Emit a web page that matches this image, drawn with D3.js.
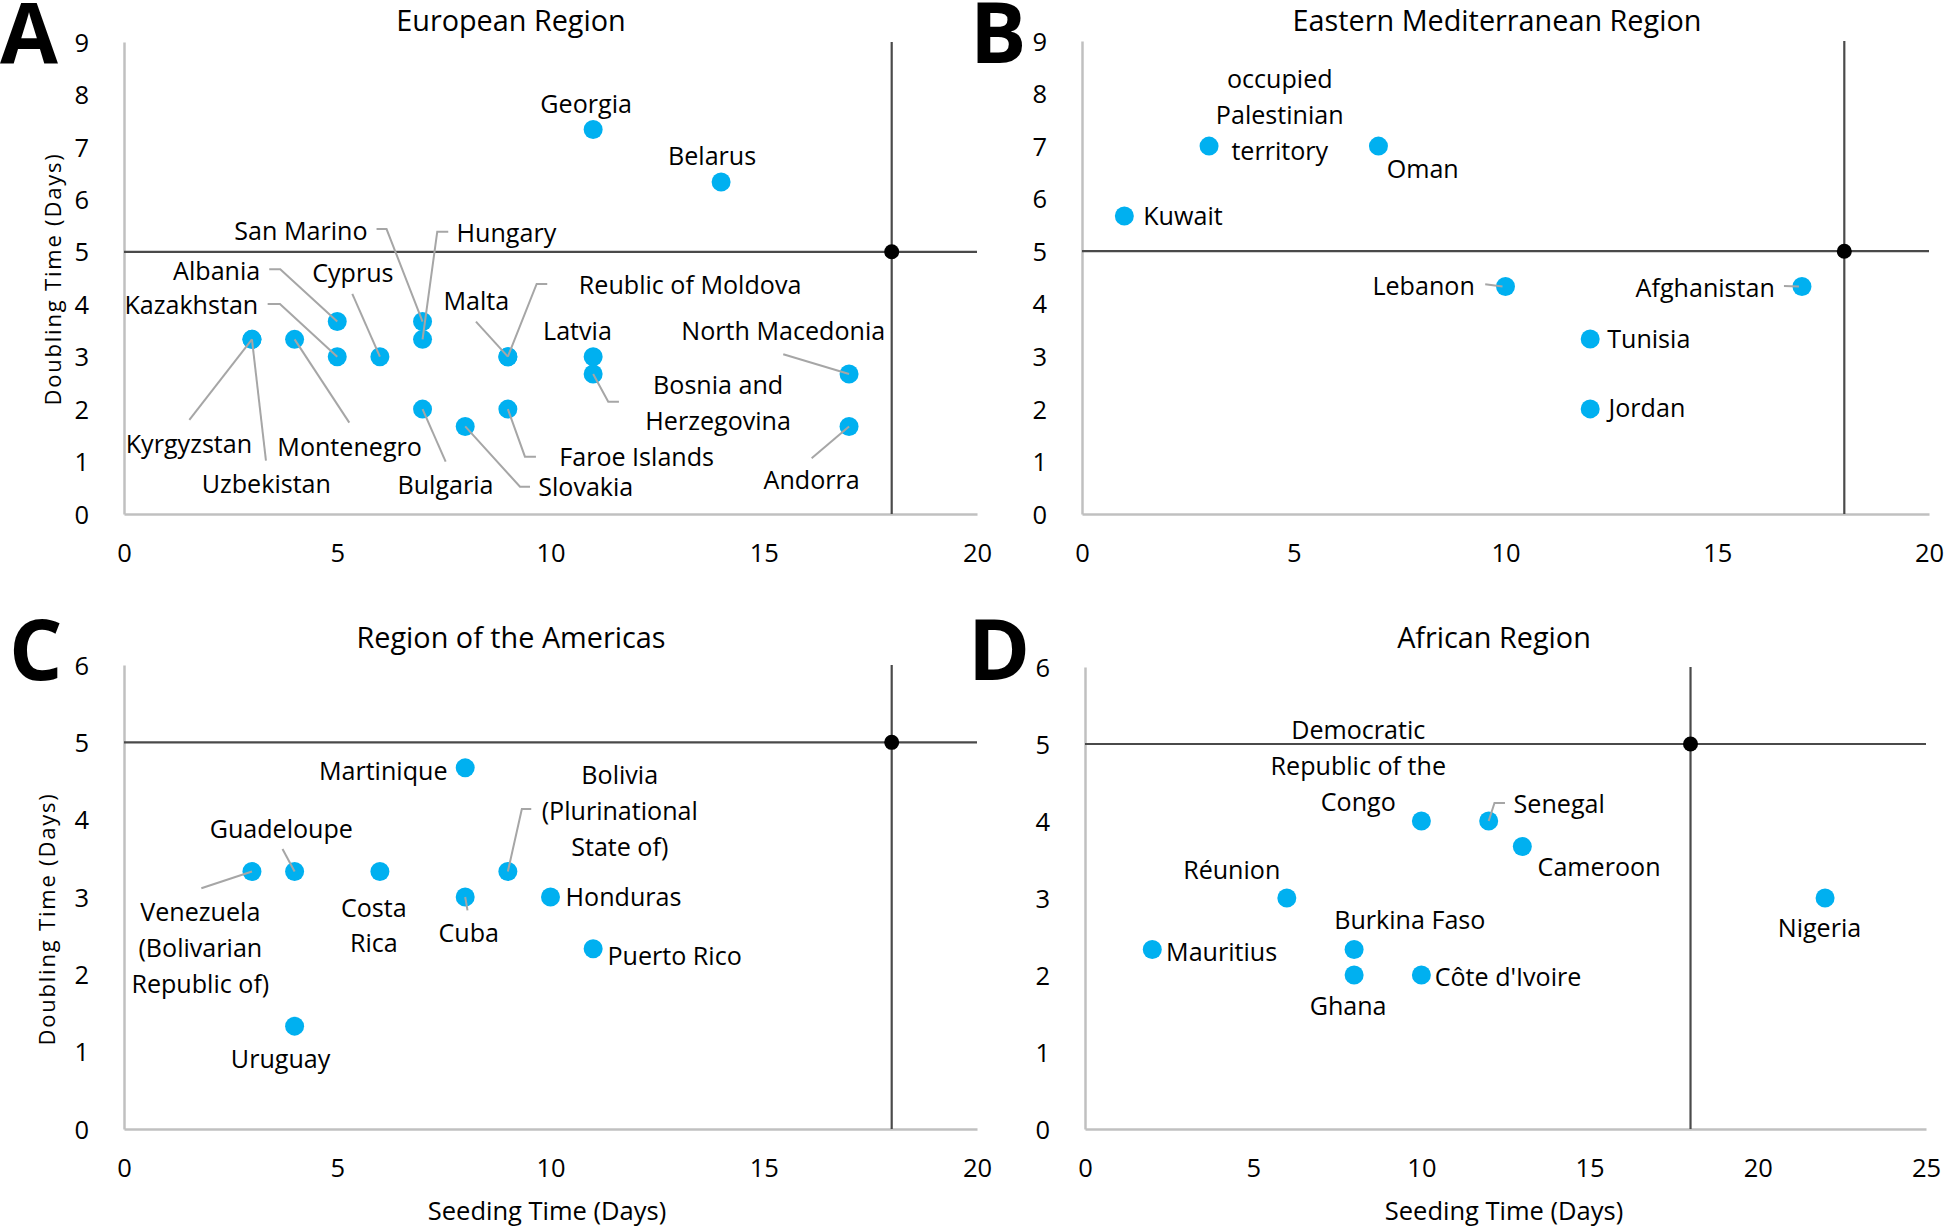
<!DOCTYPE html>
<html>
<head>
<meta charset="utf-8">
<script src="https://cdn.jsdelivr.net/npm/d3@7"></script>
<style>
  html, body { margin: 0; padding: 0; background: #ffffff; }
  svg { display: block; }
  text { font-family: "Open Sans", "Noto Sans", sans-serif; fill: #000; }
</style>
</head>
<body>
<svg id="chart" width="1946" height="1228"></svg>
<script>
// ---------------- DATA ----------------
// A: European Region
const euroCountries = ["Georgia","Belarus","San Marino","Hungary","Albania","Kazakhstan","Cyprus","Malta",
  "Reublic of Moldova","Latvia","North Macedonia","Bosnia and Herzegovina","Faroe Islands","Slovakia",
  "Andorra","Bulgaria","Montenegro","Kyrgyzstan","Uzbekistan"];
const euroSeeding  = [11, 14, 7, 7, 5, 5, 6, 9, 9, 11, 17, 11, 9, 8, 17, 7, 4, 3, 3];
const euroDoubling = [7.33, 6.33, 3.67, 3.33, 3.67, 3, 3, 3, 3, 3, 2.67, 2.67, 2, 1.67, 1.67, 2, 3.33, 3.33, 3.33];

// B: Eastern Mediterranean Region
const emCountries = ["occupied Palestinian territory","Oman","Kuwait","Lebanon","Afghanistan","Tunisia","Jordan"];
const emSeeding   = [3, 7, 1, 10, 17, 12, 12];
const emDoubling  = [7, 7, 5.67, 4.33, 4.33, 3.33, 2];

// C: Region of the Americas
const amrCountries = ["Martinique","Guadeloupe","Venezuela (Bolivarian Republic of)","Costa Rica","Cuba",
  "Bolivia (Plurinational State of)","Honduras","Puerto Rico","Uruguay"];
const amrSeeding   = [8, 4, 3, 6, 8, 9, 10, 11, 4];
const amrDoubling  = [4.67, 3.33, 3.33, 3.33, 3, 3.33, 3, 2.33, 1.33];

// D: African Region
const afrCountries = ["Democratic Republic of the Congo","Senegal","Cameroon","Réunion","Mauritius",
  "Burkina Faso","Ghana","Côte d'Ivoire","Nigeria"];
const afrSeeding   = [10, 12, 13, 6, 2, 8, 8, 10, 22];
const afrDoubling  = [4, 4, 3.67, 3, 2.33, 2.33, 2, 2, 3];

// Ticks & thresholds
const xTicks20 = [0, 5, 10, 15, 20];
const xTicks25 = [0, 5, 10, 15, 20, 25];
const yTicks9  = [0, 1, 2, 3, 4, 5, 6, 7, 8, 9];
const yTicks6  = [0, 1, 2, 3, 4, 5, 6];
const seedingThreshold = 18;
const doublingThreshold = 5;

const panelTitles = ["European Region", "Eastern Mediterranean Region", "Region of the Americas", "African Region"];
const panelLetters = ["A", "B", "C", "D"];
const xAxisTitle = "Seeding Time (Days)";
const yAxisTitle = "Doubling Time (Days)";

// ---------------- LABEL LAYOUT (pixel offsets from each point) ----------------
const labelLayout = {
  "Georgia": {lines:["Georgia"], anchor:"middle", dx:-7, dy:-26},
  "Belarus": {lines:["Belarus"], anchor:"middle", dx:-9, dy:-26},
  "San Marino": {lines:["San Marino"], anchor:"end", dx:-55, dy:-91, leader:[[-46,-92.5],[-36,-92.5],[0,0]]},
  "Hungary": {lines:["Hungary"], anchor:"start", dx:34, dy:-106, leader:[[25.7,-107.7],[14.7,-107.7],[0,0]]},
  "Albania": {lines:["Albania"], anchor:"end", dx:-77, dy:-50.5, leader:[[-68,-52.2],[-57,-52.2],[0,0]]},
  "Kazakhstan": {lines:["Kazakhstan"], anchor:"end", dx:-79, dy:-51.7, leader:[[-69.6,-52.7],[-57.3,-52.7],[0,0]]},
  "Cyprus": {lines:["Cyprus"], anchor:"middle", dx:-27, dy:-84, leader:[[-27.6,-62.7],[0,0]]},
  "Malta": {lines:["Malta"], anchor:"middle", dx:-31.6, dy:-55.7, leader:[[-31.9,-35],[0,0]]},
  "Reublic of Moldova": {lines:["Reublic of Moldova"], anchor:"start", dx:71, dy:-71.7, leader:[[39.4,-72.7],[28.8,-72.7],[0,0]]},
  "Latvia": {lines:["Latvia"], anchor:"middle", dx:-15.7, dy:-25.7},
  "North Macedonia": {lines:["North Macedonia"], anchor:"middle", dx:-65.8, dy:-43, leader:[[-65.8,-19.7],[0,0]]},
  "Bosnia and Herzegovina": {lines:["Bosnia and","Herzegovina"], anchor:"middle", dx:125, dy:11, leader:[[0,0],[15.1,27.7],[25.8,27.7]]},
  "Faroe Islands": {lines:["Faroe Islands"], anchor:"start", dx:51.4, dy:48.2, leader:[[0,0],[17.1,47.6],[28.1,47.6]]},
  "Slovakia": {lines:["Slovakia"], anchor:"start", dx:73, dy:61, leader:[[0,0],[54.8,60.3],[64.8,60.3]]},
  "Andorra": {lines:["Andorra"], anchor:"middle", dx:-37.4, dy:53.6, leader:[[-37.4,31.9],[0,0]]},
  "Bulgaria": {lines:["Bulgaria"], anchor:"middle", dx:23, dy:76, leader:[[0,0],[23.1,52.6]]},
  "Montenegro": {lines:["Montenegro"], anchor:"middle", dx:55, dy:107.3, leader:[[0,0],[54.7,83.3]]},
  "Kyrgyzstan": {lines:["Kyrgyzstan"], anchor:"middle", dx:-63, dy:104.6, leader:[[0,0],[-62.6,80.6]]},
  "Uzbekistan": {lines:["Uzbekistan"], anchor:"middle", dx:14.4, dy:144.6, leader:[[0,0],[14,121.3]]},

  "occupied Palestinian territory": {lines:["occupied","Palestinian","territory"], anchor:"middle", dx:70.7, dy:-66.8},
  "Oman": {lines:["Oman"], anchor:"start", dx:8.2, dy:22.9},
  "Kuwait": {lines:["Kuwait"], anchor:"start", dx:18.9, dy:0.4},
  "Lebanon": {lines:["Lebanon"], anchor:"end", dx:-30.7, dy:-0.7, leader:[[-20.3,-2.1],[-3,0]]},
  "Afghanistan": {lines:["Afghanistan"], anchor:"end", dx:-27.1, dy:1.5, leader:[[-18,-0.4],[-3,0]]},
  "Tunisia": {lines:["Tunisia"], anchor:"start", dx:17, dy:0.3},
  "Jordan": {lines:["Jordan"], anchor:"start", dx:18.3, dy:-1},

  "Martinique": {lines:["Martinique"], anchor:"end", dx:-17.7, dy:3.5},
  "Guadeloupe": {lines:["Guadeloupe"], anchor:"middle", dx:-13.3, dy:-42.5, leader:[[-12.1,-22.5],[0,0]]},
  "Venezuela (Bolivarian Republic of)": {lines:["Venezuela","(Bolivarian","Republic of)"], anchor:"middle", dx:-51.6, dy:40.9, leader:[[-50.6,16.8],[0,0]]},
  "Costa Rica": {lines:["Costa","Rica"], anchor:"middle", dx:-6.1, dy:36.1},
  "Cuba": {lines:["Cuba"], anchor:"middle", dx:3.5, dy:36.2, leader:[[2.3,13.4],[0,0]]},
  "Bolivia (Plurinational State of)": {lines:["Bolivia","(Plurinational","State of)"], anchor:"middle", dx:111.9, dy:-96.1, leader:[[23.4,-62.5],[14,-62.5],[0,0]]},
  "Honduras": {lines:["Honduras"], anchor:"start", dx:15.1, dy:0.2},
  "Puerto Rico": {lines:["Puerto Rico"], anchor:"start", dx:14.3, dy:6.8},
  "Uruguay": {lines:["Uruguay"], anchor:"middle", dx:-14, dy:32.4},

  "Democratic Republic of the Congo": {lines:["Democratic","Republic of the","Congo"], anchor:"middle", dx:-63.1, dy:-90.8},
  "Senegal": {lines:["Senegal"], anchor:"start", dx:24.9, dy:-16.8, leader:[[16.3,-18],[5.8,-18],[0,0]]},
  "Cameroon": {lines:["Cameroon"], anchor:"start", dx:15.3, dy:20.7},
  "Réunion": {lines:["Réunion"], anchor:"middle", dx:-55.1, dy:-28.5},
  "Mauritius": {lines:["Mauritius"], anchor:"start", dx:13.8, dy:2},
  "Burkina Faso": {lines:["Burkina Faso"], anchor:"middle", dx:55.7, dy:-30},
  "Ghana": {lines:["Ghana"], anchor:"middle", dx:-6, dy:30.7},
  "Côte d'Ivoire": {lines:["Côte d'Ivoire"], anchor:"start", dx:13.3, dy:2.3},
  "Nigeria": {lines:["Nigeria"], anchor:"middle", dx:-5.6, dy:29.6}
};

// ---------------- STYLE ----------------
const pointColor = "#00b0f0";
const pointR = 9.5;
const axisColor = "#c0c0c0";
const refColor = "#4a4a4a";
const leaderColor = "#a6a6a6";
const labelSize = 25.1;
const tickSize = 25.5;
const lineGap = 35.7;

const svg = d3.select("#chart");

function drawPanel(p) {
  const x = d3.scaleLinear().domain(p.xDomain).range(p.xRange);
  const y = d3.scaleLinear().domain(p.yDomain).range(p.yRange);
  const g = svg.append("g");
  const fmt = d3.format("d");

  // axes
  const ax = g.append("g").attr("transform", `translate(0,${y(0)})`)
    .call(d3.axisBottom(x).tickValues(p.xTicks).tickFormat(fmt).tickSize(0).tickSizeOuter(0).tickPadding(30));
  const ay = g.append("g").attr("transform", `translate(${x(0)},0)`)
    .call(d3.axisLeft(y).tickValues(p.yTicks).tickFormat(fmt).tickSize(0).tickSizeOuter(0).tickPadding(35));
  [ax, ay].forEach(a => {
    a.select(".domain").attr("stroke", axisColor).attr("stroke-width", 2.5);
    a.selectAll("text").attr("font-size", tickSize).attr("font-family", "Open Sans").attr("fill", "#000");
  });
  ay.selectAll("text").attr("dy", "0.36em");

  // reference lines
  g.append("line").attr("x1", x(p.xDomain[0])).attr("x2", x(p.xDomain[1]))
    .attr("y1", y(doublingThreshold)).attr("y2", y(doublingThreshold))
    .attr("stroke", refColor).attr("stroke-width", 2.2);
  g.append("line").attr("x1", x(seedingThreshold)).attr("x2", x(seedingThreshold))
    .attr("y1", y(p.yDomain[0])).attr("y2", y(p.yDomain[1]))
    .attr("stroke", refColor).attr("stroke-width", 2.2);

  const pts = p.names.map((n, i) => ({name: n, sx: p.xs[i], sy: p.ys[i]}));

  // points
  g.selectAll("circle.pt").data(pts).join("circle").attr("class", "pt")
    .attr("cx", d => x(d.sx)).attr("cy", d => y(d.sy)).attr("r", pointR)
    .attr("fill", pointColor);

  // leader lines
  const line = d3.line();
  pts.forEach(d => {
    const L = labelLayout[d.name];
    if (L && L.leader) {
      const px = x(d.sx), py = y(d.sy);
      g.append("path").attr("d", line(L.leader.map(q => [px + q[0], py + q[1]])))
        .attr("fill", "none").attr("stroke", leaderColor).attr("stroke-width", 2);
    }
  });

  // threshold dot
  g.append("circle").attr("cx", x(seedingThreshold)).attr("cy", y(doublingThreshold))
    .attr("r", 7.5).attr("fill", "#000");

  // labels
  pts.forEach(d => {
    const L = labelLayout[d.name];
    const px = x(d.sx), py = y(d.sy);
    const t = g.append("text").attr("font-size", labelSize).attr("text-anchor", L.anchor);
    L.lines.forEach((ln, k) => {
      t.append("tspan").attr("x", px + L.dx).attr("y", py + L.dy + k * lineGap).attr("dy", "0.36em").text(ln);
    });
  });

  // title
  g.append("text").attr("x", p.titleX).attr("y", p.titleY).attr("text-anchor", "middle")
    .attr("font-size", 28.8).text(p.title);
  // panel letter
  g.append("text").attr("x", p.letterX).attr("y", p.letterY)
    .attr("font-family", "Liberation Sans, Arial, sans-serif").attr("font-weight", "bold")
    .attr("font-size", 84).text(p.letter);
  // axis titles
  if (p.yTitleX) {
    g.append("text").attr("transform", `translate(${p.yTitleX},${p.yTitleY}) rotate(-90)`)
      .attr("text-anchor", "middle").attr("dominant-baseline", "central")
      .attr("font-size", 22).attr("letter-spacing", 1.8).text(yAxisTitle);
  }
  if (p.xTitleX) {
    g.append("text").attr("x", p.xTitleX).attr("y", p.xTitleY).attr("text-anchor", "middle")
      .attr("font-size", 25.5).text(xAxisTitle);
  }
}

drawPanel({names: euroCountries, xs: euroSeeding, ys: euroDoubling,
  xDomain: [0, 20], yDomain: [0, 9], xRange: [124, 977], yRange: [514, 42],
  xTicks: xTicks20, yTicks: yTicks9, title: panelTitles[0], titleX: 511, titleY: 31,
  letter: panelLetters[0], letterX: 0, letterY: 63, yTitleX: 52, yTitleY: 279});

drawPanel({names: emCountries, xs: emSeeding, ys: emDoubling,
  xDomain: [0, 20], yDomain: [0, 9], xRange: [1082, 1929], yRange: [514, 41],
  xTicks: xTicks20, yTicks: yTicks9, title: panelTitles[1], titleX: 1497, titleY: 31,
  letter: panelLetters[1], letterX: 970, letterY: 63});

drawPanel({names: amrCountries, xs: amrSeeding, ys: amrDoubling,
  xDomain: [0, 20], yDomain: [0, 6], xRange: [124, 977], yRange: [1129, 665],
  xTicks: xTicks20, yTicks: yTicks6, title: panelTitles[2], titleX: 511, titleY: 648,
  letter: panelLetters[2], letterX: 9, letterY: 680, yTitleX: 46, yTitleY: 919,
  xTitleX: 547, xTitleY: 1220});

drawPanel({names: afrCountries, xs: afrSeeding, ys: afrDoubling,
  xDomain: [0, 25], yDomain: [0, 6], xRange: [1085, 1926], yRange: [1129, 667],
  xTicks: xTicks25, yTicks: yTicks6, title: panelTitles[3], titleX: 1494, titleY: 648,
  letter: panelLetters[3], letterX: 968, letterY: 680,
  xTitleX: 1504, xTitleY: 1220});
</script>
</body>
</html>
